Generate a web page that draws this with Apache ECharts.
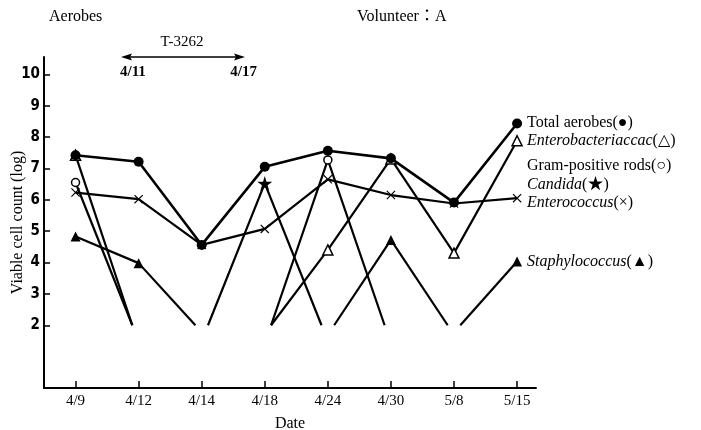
<!DOCTYPE html>
<html>
<head>
<meta charset="utf-8">
<script src="https://cdn.jsdelivr.net/npm/echarts@6/dist/echarts.min.js"></script>
<style>
html,body{margin:0;padding:0;background:#fff;}
#chart{width:701px;height:430px;}
</style>
</head>
<body>
<div id="chart"></div>
<script>
// ---- data (log viable cell count); 2 = detection limit (below detection) ----
const dates = ['4/9', '4/12', '4/14', '4/18', '4/24', '4/30', '5/8', '5/15'];
const totalAerobes       = [7.42, 7.21, 4.56, 7.05, 7.56, 7.32, 5.91, 8.43];
const enterobacteriaceae = [7.42, 2, null, 2, 4.40, 7.30, 4.30, 7.88];
const gramPositiveRods   = [6.55, 2, null, 2, 7.27, 2, null, null];
const candida            = [null, null, 2, 6.52, 2, null, null, null];
const enterococcus       = [6.23, 6.02, 4.56, 5.07, 6.65, 6.15, 5.88, 6.05];
const staphylococcus     = [4.83, 3.98, 2, null, 2, 4.72, 2, 4.03];
const detectionLimit = 2;
const yTickValues = [2, 3, 4, 5, 6, 7, 8, 9, 10];
const xTickValues = [0, 1, 2, 3, 4, 5, 6, 7];

const SERIF = "'Liberation Serif', 'DejaVu Serif', 'Noto Sans CJK JP', serif";
const NUM = "'Liberation Sans Narrow', 'DejaVu Sans Condensed', 'Liberation Sans', sans-serif";
const GAP = 0.1; // endpoints at detection limit are drawn just beside the date

const STAR = 'path://M50,0 L61,35 L98,35 L68,57 L79,91 L50,70 L21,91 L32,57 L2,35 L39,35 Z';
const CROSS = 'path://M0,9 L9,0 L50,41 L91,0 L100,9 L59,50 L100,91 L91,100 L50,59 L9,100 L0,91 L41,50 Z';

// split a series into polyline runs; detection-limit points are offset sideways
function runs(values) {
  const out = [];
  let cur = null;
  for (let i = 0; i < values.length - 1; i++) {
    const a = values[i], b = values[i + 1];
    if (a == null || b == null) { cur = null; continue; }
    const start = [i + (a === detectionLimit ? GAP : 0), a];
    const end = [i + 1 + (b === detectionLimit ? -GAP : 0), b];
    if (cur && cur[cur.length - 1][0] === start[0] && cur[cur.length - 1][1] === start[1]) {
      cur.push(end);
    } else {
      cur = [start, end];
      out.push(cur);
    }
    if (b === detectionLimit) cur = null;
  }
  return out;
}
function marks(values) {
  const out = [];
  values.forEach((v, i) => { if (v != null && v !== detectionLimit) out.push([i, v]); });
  return out;
}

const organisms = [
  { values: staphylococcus, width: 2.2, symbol: 'triangle', size: 10, fill: '#000' },
  { values: candida, width: 2.2, symbol: STAR, size: 15, fill: '#000' },
  { values: gramPositiveRods, width: 2.2, symbol: 'circle', size: 8, fill: '#fff' },
  { values: enterobacteriaceae, width: 2.2, symbol: 'triangle', size: 10, fill: '#fff' },
  { values: enterococcus, width: 2.2, symbol: CROSS, size: 9, fill: '#000' },
  { values: totalAerobes, width: 2.6, symbol: 'circle', size: 10, fill: '#000' }
];

const series = [];
organisms.forEach(o => {
  runs(o.values).forEach(r => {
    series.push({
      type: 'line', data: r, showSymbol: false, symbol: 'none',
      lineStyle: { color: '#000', width: o.width }, z: 2, silent: true
    });
  });
});
organisms.forEach(o => {
  const empty = o.fill === '#fff';
  series.push({
    type: 'scatter', data: marks(o.values), symbol: o.symbol, symbolSize: o.size, z: 5,
    itemStyle: { color: o.fill, borderColor: '#000', borderWidth: empty ? 1.5 : 0, opacity: 1 }
  });
});

function legendText(y, name, sym, italic) {
  return {
    type: 'text', x: 527, y: y,
    style: {
      text: '{' + (italic ? 'i' : 'n') + '|' + name + '}{s|(' + sym + ')}',
      verticalAlign: 'middle',
      rich: {
        i: { fontFamily: SERIF, fontSize: 16, fontStyle: 'italic', fill: '#000' },
        n: { fontFamily: SERIF, fontSize: 16, fill: '#000' },
        s: { fontFamily: SERIF, fontSize: 16, fill: '#000' }
      }
    }
  };
}

const option = {
  animation: false,
  backgroundColor: '#fff',
  grid: { left: 44, right: 165, top: 57, bottom: 42, containLabel: false, outerBoundsMode: 'none' },
  xAxis: {
    type: 'value', min: -0.5, max: 7.3,
    axisLine: { show: true, onZero: false, lineStyle: { color: '#000', width: 2 } },
    axisTick: { show: true, inside: true, length: 7, customValues: xTickValues, lineStyle: { color: '#000', width: 1.5 } },
    axisLabel: {
      customValues: xTickValues, formatter: v => dates[v], color: '#000',
      fontFamily: SERIF, fontSize: 15, margin: 6
    },
    splitLine: { show: false },
    name: 'Date', nameLocation: 'middle', nameGap: 28, nameMoveOverlap: false,
    nameTextStyle: { color: '#000', fontFamily: SERIF, fontSize: 16 }
  },
  yAxis: {
    type: 'value', min: 0, max: 10.55,
    axisLine: { show: true, onZero: false, lineStyle: { color: '#000', width: 2 } },
    axisTick: { show: true, inside: true, length: 6, customValues: yTickValues, lineStyle: { color: '#000', width: 1.5 } },
    axisLabel: {
      customValues: yTickValues, color: '#000', fontFamily: NUM, fontWeight: 'bold',
      fontSize: 15, margin: 4
    },
    splitLine: { show: false },
    name: 'Viable cell count (log)', nameLocation: 'middle', nameGap: 18, nameRotate: 90,
    nameMoveOverlap: false,
    nameTextStyle: { color: '#000', fontFamily: SERIF, fontSize: 16 }
  },
  series: series,
  graphic: [
    { type: 'text', x: 49, y: 17, style: { text: 'Aerobes', fill: '#000', font: '16px ' + SERIF, verticalAlign: 'middle' } },
    { type: 'text', x: 357, y: 17, style: { text: 'Volunteer：A', fill: '#000', font: '16px ' + SERIF, verticalAlign: 'middle' } },
    { type: 'text', x: 182, y: 42, style: { text: 'T-3262', fill: '#000', font: '15px ' + SERIF, align: 'center', verticalAlign: 'middle' } },
    { type: 'line', shape: { x1: 126, y1: 57, x2: 240, y2: 57 }, style: { stroke: '#000', lineWidth: 1.5 } },
    { type: 'polygon', shape: { points: [[121, 57], [132, 53.5], [130, 57], [132, 60.5]] }, style: { fill: '#000' } },
    { type: 'polygon', shape: { points: [[245, 57], [234, 53.5], [236, 57], [234, 60.5]] }, style: { fill: '#000' } },
    { type: 'text', x: 120, y: 72, style: { text: '4/11', fill: '#000', font: 'bold 15px ' + SERIF, verticalAlign: 'middle' } },
    { type: 'text', x: 257, y: 72, style: { text: '4/17', fill: '#000', font: 'bold 15px ' + SERIF, align: 'right', verticalAlign: 'middle' } },
    legendText(123, 'Total aerobes', '●', false),
    legendText(141, 'Enterobacteriaccac', '△', true),
    legendText(166, 'Gram-positive rods', '○', false),
    legendText(185, 'Candida', '★', true),
    legendText(203, 'Enterococcus', '×', true),
    legendText(262, 'Staphylococcus', '▲', true)
  ]
};

const chart = echarts.init(document.getElementById('chart'), null, { renderer: 'canvas' });
chart.setOption(option);
</script>
</body>
</html>
